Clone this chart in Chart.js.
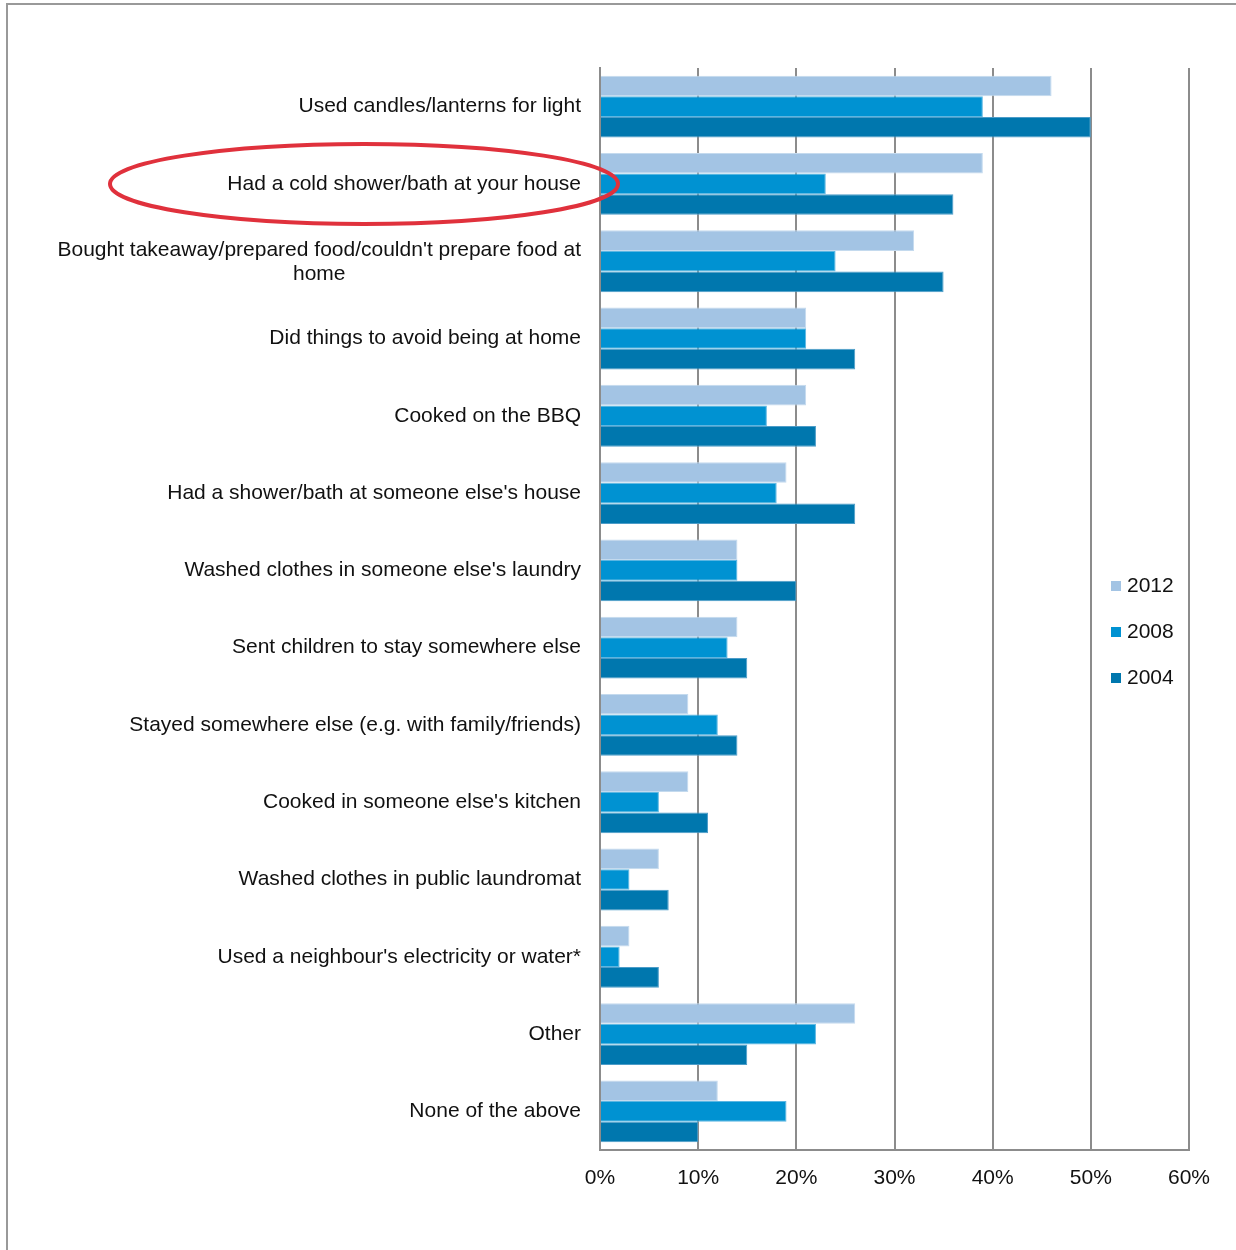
<!DOCTYPE html>
<html><head><meta charset="utf-8">
<script src="https://cdn.jsdelivr.net/npm/chart.js@4.4.1/dist/chart.umd.min.js"></script>
<style>html,body{margin:0;padding:0;background:#fff;} canvas{display:block;}</style>
</head><body>
<canvas id="c" width="1236" height="1250"></canvas>
<script>
const categories = [
  "Used candles/lanterns for light",
  "Had a cold shower/bath at your house",
  "Bought takeaway/prepared food/couldn't prepare food at home",
  "Did things to avoid being at home",
  "Cooked on the BBQ",
  "Had a shower/bath at someone else's house",
  "Washed clothes in someone else's laundry",
  "Sent children to stay somewhere else",
  "Stayed somewhere else (e.g. with family/friends)",
  "Cooked in someone else's kitchen",
  "Washed clothes in public laundromat",
  "Used a neighbour's electricity or water*",
  "Other",
  "None of the above"
];
const wrappedLabel = ["Bought takeaway/prepared food/couldn't prepare food at", "home"];
const values2012 = [46, 39, 32, 21, 21, 19, 14, 14, 9, 9, 6, 3, 26, 12];
const values2008 = [39, 23, 24, 21, 17, 18, 14, 13, 12, 6, 3, 2, 22, 19];
const values2004 = [50, 36, 35, 26, 22, 26, 20, 15, 14, 11, 7, 6, 15, 10];
const seriesLabels = ["2012", "2008", "2004"];
const xTickValues = [0, 10, 20, 30, 40, 50, 60];
const highlightedIndex = 1;
const wrappedIndex = 2;

const colors = ["#A3C4E4", "#0092D2", "#0077AE"];
const borderColors = ["#C4DAEE", "#5BB6E2", "#4C9CC8"];
const FONT = '"Liberation Sans", Arial, Helvetica, sans-serif';
const FS = 21;
const GRID = "#8c8c8c";

const extras = {
  id: "extras",
  afterDraw(chart) {
    const ctx = chart.ctx;
    const y = chart.scales.y;
    ctx.save();
    // wrapped label, centered lines
    const yc = y.getPixelForValue(wrappedIndex) + 1;
    ctx.font = FS + "px " + FONT;
    ctx.fillStyle = "#111";
    ctx.textBaseline = "middle";
    ctx.textAlign = "right";
    const right = y.right - 19;
    const w1 = ctx.measureText(wrappedLabel[0]).width;
    ctx.fillText(wrappedLabel[0], right, yc - 12);
    ctx.textAlign = "center";
    ctx.fillText(wrappedLabel[1], right - w1 / 2, yc + 12);

    // legend
    const ds = chart.data.datasets;
    const mid = (y.top + y.bottom) / 2;
    ds.forEach((d, i) => {
      const ly = mid + 23 + (i - 1) * 46;
      ctx.fillStyle = d.backgroundColor;
      ctx.fillRect(1111, ly - 5, 10, 10);
      ctx.fillStyle = "#111";
      ctx.textAlign = "left";
      ctx.fillText(d.label, 1127, ly);
    });

    // highlight ellipse
    const hy = y.getPixelForValue(highlightedIndex);
    ctx.beginPath();
    ctx.ellipse(364, hy, 254, 40, 0, 0, Math.PI * 2);
    ctx.strokeStyle = "#E0313C";
    ctx.lineWidth = 4;
    ctx.stroke();

    // frame
    ctx.beginPath();
    ctx.moveTo(7, 1250);
    ctx.lineTo(7, 4);
    ctx.lineTo(1236, 4);
    ctx.strokeStyle = "#999";
    ctx.lineWidth = 2;
    ctx.stroke();
    ctx.restore();
  }
};

new Chart(document.getElementById("c"), {
  type: "bar",
  data: {
    labels: categories,
    datasets: [values2012, values2008, values2004].map((v, i) => ({
      label: seriesLabels[i],
      data: v,
      backgroundColor: colors[i],
      borderColor: borderColors[i],
      borderWidth: 1,
      categoryPercentage: 0.8,
      barPercentage: 1.0
    }))
  },
  options: {
    indexAxis: "y",
    responsive: false,
    animation: false,
    devicePixelRatio: 1,
    layout: { padding: { top: 68, right: 47, left: 0, bottom: 0 } },
    plugins: { legend: { display: false }, tooltip: { enabled: false } },
    scales: {
      x: {
        min: 0, max: 60,
        afterBuildTicks: s => { s.ticks = xTickValues.map(v => ({ value: v })); },
        ticks: { callback: v => v + "%", font: { size: FS, family: FONT }, color: "#111", padding: 16, maxRotation: 0 },
        grid: { color: GRID, lineWidth: 2, drawTicks: false },
        border: { color: GRID, width: 2 },
        afterFit: s => { s.height = 100; }
      },
      y: {
        grid: { display: false, drawTicks: false },
        border: { display: true, color: GRID, width: 2 },
        ticks: {
          font: { size: FS, family: FONT },
          color: c => c.index === wrappedIndex ? "rgba(0,0,0,0)" : "#111",
          padding: 19,
          autoSkip: false,
          callback: function (v, i) { return i === wrappedIndex ? "" : categories[i]; }
        },
        afterFit: s => { s.width = 600; }
      }
    }
  },
  plugins: [extras]
});
</script>
</body></html>
